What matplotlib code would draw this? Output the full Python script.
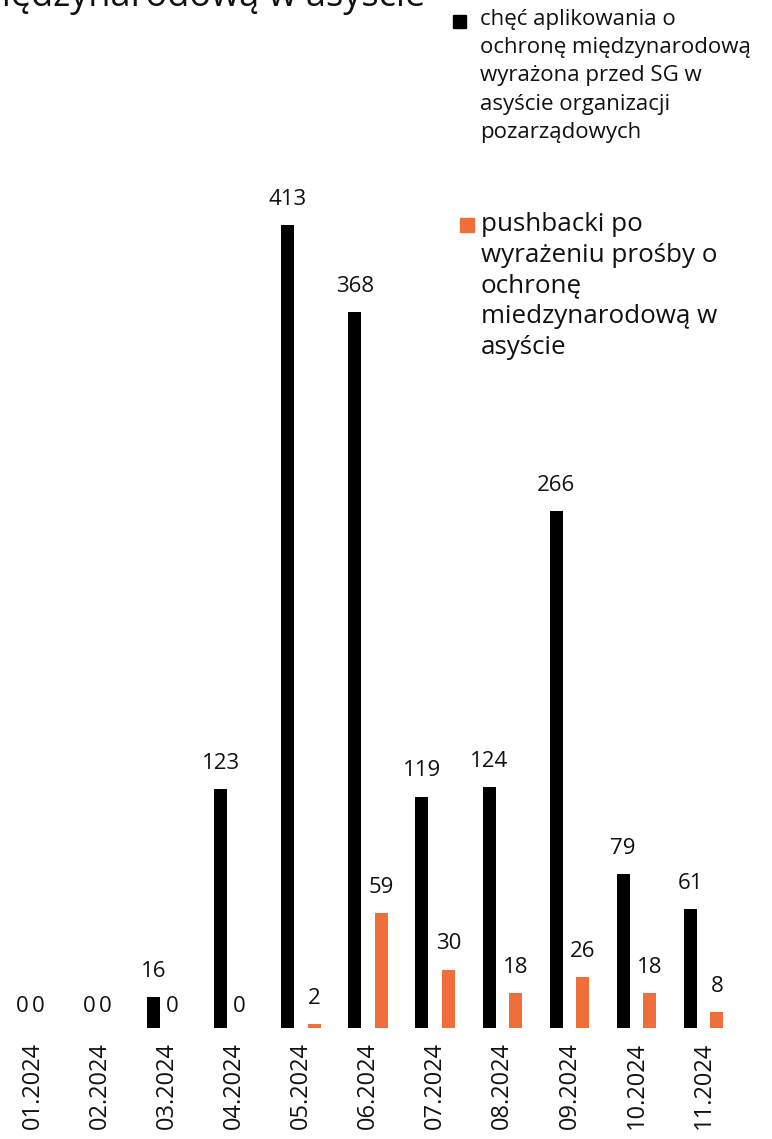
import matplotlib
matplotlib.use("Agg")
import matplotlib.pyplot as plt
from matplotlib.patches import Rectangle
import numpy as np

months = ["01.2024", "02.2024", "03.2024", "04.2024", "05.2024", "06.2024",
          "07.2024", "08.2024", "09.2024", "10.2024", "11.2024"]
applications = [0, 0, 16, 123, 413, 368, 119, 124, 266, 79, 61]
pushbacks = [0, 0, 0, 0, 2, 59, 30, 18, 26, 18, 8]

legend1 = "chęć aplikowania o\nochronę międzynarodową\nwyrażona przed SG w\nasyście organizacji\npozarządowych"
legend2 = "pushbacki po\nwyrażeniu prośby o\nochronę\nmiedzynarodową w\nasyście"
title = "Pushbacki po wyrażeniu prośby o ochronę międzynarodową w asyście"

BLACK = "#000000"
ORANGE = "#EF6F3A"
FONT = ["Open Sans", "DejaVu Sans"]
plt.rcParams['font.family'] = FONT

W, H = 772, 1139
fig = plt.figure(figsize=(W / 100, H / 100), dpi=100)

base_px = 1028
top_px = 225
ax = fig.add_axes([0, 1 - base_px / H, 1, (base_px - top_px) / H])
ax.set_ylim(0, 413)
c0, step = 32.6, 67.1
ax.set_xlim((0 - c0) / step, (W - c0) / step)

x = np.arange(len(months))
bw = 0.194
off = 0.198
ax.bar(x - off, applications, bw, color=BLACK)
ax.bar(x + off, pushbacks, bw, color=ORANGE)

for xi, v in zip(x, applications):
    dx = 3 if v == 0 else 0
    ax.annotate(str(v), (xi - off, v), xytext=(dx * 0.72, 11 if v else 8),
                textcoords="offset points", ha="center", va="bottom",
                fontsize=16, color="#111111")
for xi, v in zip(x, pushbacks):
    dx = -8 if v == 0 else 0
    ax.annotate(str(v), (xi + off, v), xytext=(dx * 0.72, 11 if v else 8),
                textcoords="offset points", ha="center", va="bottom",
                fontsize=16, color="#111111")

ax.set_xticks(x)
ax.set_xticklabels(months, rotation=90, fontsize=17, color="#111111")
ax.tick_params(axis="x", length=0, pad=10)
ax.set_yticks([])
for s in ax.spines.values():
    s.set_visible(False)
ax.patch.set_alpha(0)

# title (cut off at top of figure)
fig.text(425 / W, 1 - 6 / H, title, ha="right", va="baseline",
         fontsize=26, color="#111111")

# legend
fig.add_artist(Rectangle((453 / W, 1 - 28 / H), 13 / W, 13 / H,
                         transform=fig.transFigure, color=BLACK))
fig.text(480 / W, 1 - 9 / H, legend1, ha="left", va="top", fontsize=16,
         linespacing=1.45, color="#111111")
fig.add_artist(Rectangle((460 / W, 1 - 232 / H), 14 / W, 14 / H,
                         transform=fig.transFigure, color=ORANGE))
fig.text(481 / W, 1 - 212 / H, legend2, ha="left", va="top", fontsize=18.7,
         linespacing=1.3, color="#111111")

fig.savefig("out.png", dpi=100)
